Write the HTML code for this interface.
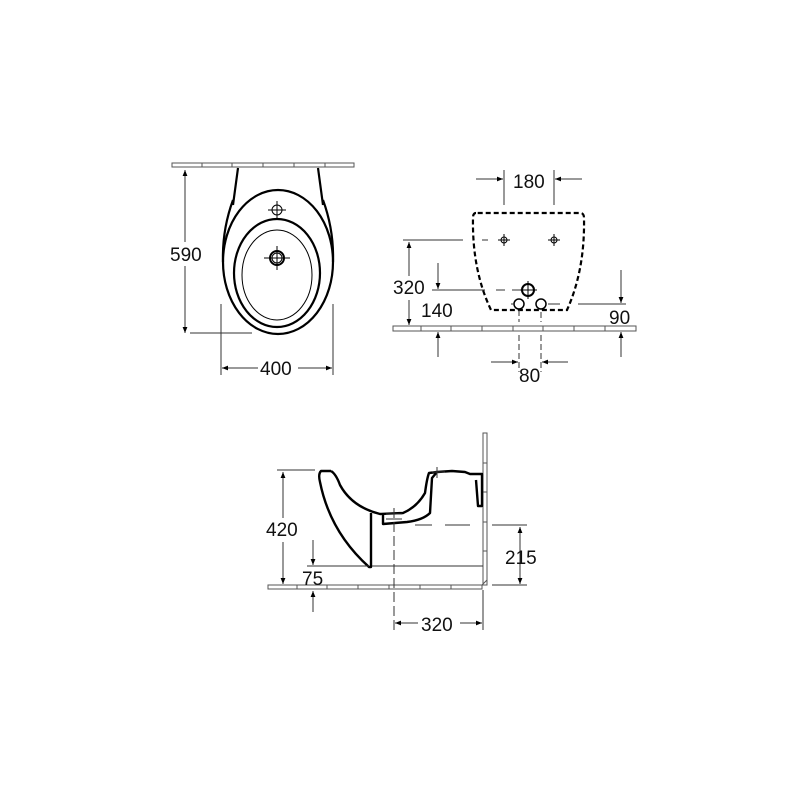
<!DOCTYPE html>
<html><head><style>
html,body{margin:0;padding:0;background:#fff;}
svg{display:block;}
text{font-family:"Liberation Sans",sans-serif;font-size:19px;fill:#111;}
</style></head><body>
<svg width="800" height="800" viewBox="0 0 800 800" xmlns="http://www.w3.org/2000/svg">
<defs>
<marker id="a" viewBox="0 0 10 10" refX="10" refY="5" markerWidth="10" markerHeight="6" orient="auto-start-reverse" markerUnits="userSpaceOnUse"><path d="M0,1 L10,5 L0,9 Z" fill="#000"/></marker>
</defs>
<g fill="none" stroke="#555" stroke-width="1">
<rect x="172" y="163" width="182" height="4" fill="#fff"/>
<path d="M202,163v4M232,163v4M263,163v4M294,163v4M325,163v4"/>
</g>
<g fill="none" stroke="#000" stroke-width="2.2">
<path d="M238,168 L233,205 M318,168 L323,205"/>
<path d="M233,200 Q222,230 223,262 M323,200 Q334,230 333,262"/>
<ellipse cx="278" cy="262" rx="55" ry="72"/>
<ellipse cx="277" cy="273" rx="43" ry="54"/>
</g>
<g fill="none" stroke="#000" stroke-width="1">
<ellipse cx="277" cy="275" rx="35" ry="45"/>
<circle cx="277" cy="210" r="5"/><path d="M268,210h18M277,201v18"/>
<circle cx="277" cy="258" r="7" stroke-width="2"/><circle cx="277" cy="258" r="5"/><path d="M264,258h26M277,246v24"/>
</g>
<g fill="none" stroke="#333" stroke-width="1">
<path d="M185,170 V333" marker-start="url(#a)" marker-end="url(#a)"/>
<path d="M190,333 H252"/>
<path d="M221,304 V375 M333,304 V375"/>
<path d="M222,368 H258" marker-start="url(#a)"/><path d="M298,368 H332" marker-end="url(#a)"/>
</g>
<rect x="168" y="242" width="40" height="24" fill="#fff"/>
<text x="170" y="261">590</text>
<text x="260" y="375">400</text>

<!-- VIEW 2 -->
<g fill="none" stroke="#555" stroke-width="1">
<rect x="393" y="326" width="243" height="5" fill="#fff"/>
<path d="M421,326v5M451,326v5M482,326v5M513,326v5M543,326v5M574,326v5M605,326v5"/>
</g>
<g fill="none" stroke="#000" stroke-width="2.2" stroke-dasharray="5,3">
<path d="M476,213 Q473,213 473,218 Q472,270 491,310 L567,310 Q585,270 584,218 Q584,213 580,213 Z"/>
</g>
<g fill="none" stroke="#000" stroke-width="1">
<circle cx="504" cy="240" r="3"/><path d="M498,240h12M504,234v12"/>
<circle cx="554" cy="240" r="3"/><path d="M548,240h12M554,234v12"/>
<circle cx="528" cy="290" r="6" stroke-width="2"/><path d="M519,290h18M528,281v18"/>
<circle cx="519" cy="304" r="5" stroke-width="1.5"/><circle cx="541" cy="304" r="5" stroke-width="1.5"/>
</g>
<g fill="none" stroke="#333" stroke-width="1">
<path d="M504,170 V205 M554,170 V205"/>
<path d="M476,179 H503" marker-end="url(#a)"/><path d="M582,179 H555" marker-end="url(#a)"/>
<path d="M403,240 H463 M482,240 H488"/>
<path d="M409,242 V325" marker-start="url(#a)" marker-end="url(#a)"/>
<path d="M430,290 H485 M496,290 H505 M512,290 H520"/>
<path d="M438,263 V289" marker-end="url(#a)"/><path d="M438,357 V332" marker-end="url(#a)"/>
<path d="M511,304 H515 M548,304 H560 M578,304 H626"/>
<path d="M621,270 V303" marker-end="url(#a)"/><path d="M621,357 V332" marker-end="url(#a)"/>
<path d="M519,310 V322 M519,335 V372 M541,312 V322 M541,335 V372" stroke-dasharray="6,3"/>
<path d="M491,362 H518" marker-end="url(#a)"/><path d="M568,362 H542" marker-end="url(#a)"/>
</g>
<rect x="392" y="276" width="40" height="24" fill="#fff"/>
<text x="393" y="294">320</text>
<text x="421" y="317">140</text>
<text x="609" y="324">90</text>
<text x="519" y="382">80</text>
<text x="513" y="188">180</text>

<!-- VIEW 3 -->
<g fill="none" stroke="#555" stroke-width="1">
<rect x="483" y="433" width="4" height="152" fill="#fff"/>
<path d="M483,463h4M483,492h4M483,522h4M483,551h4"/>
<rect x="268" y="585" width="214" height="4" fill="#fff"/>
<path d="M297,585v4M327,585v4M358,585v4M389,585v4M420,585v4M451,585v4"/>
<path d="M482,585 L487,580"/>
</g>
<g fill="none" stroke="#000" stroke-width="2.4" stroke-linejoin="round">
<path d="M331,471 L321,471 Q318,474 320,482 Q330,532 369,567 L371,567 L371,513"/>
<path d="M331,471 Q336,474 340,485 Q352,507 380,514 L403,513 Q417,507 425,493 Q427,478 429,473 L437,472"/>
<path d="M383,515 L383,524 L407,522 Q423,520 430,513 L432,478 L437,472 L452,471 L465,472 L470,474 L482,474 L482,506 L478,506 L476,480"/>
</g>
<g fill="none" stroke="#333" stroke-width="1">
<path d="M277,470 H315 M437,467 V478 M432,472 H445"/>
<path d="M283,472 V584" marker-start="url(#a)" marker-end="url(#a)"/>
<path d="M307,566 H369 M372,566 H483"/>
<path d="M313,540 V565" marker-end="url(#a)"/><path d="M313,612 V591" marker-end="url(#a)"/>
<path d="M394,508 V630" stroke-dasharray="10,4"/>
<path d="M386,514 H402 M386,519 H402"/>
<path d="M415,525 H432 M445,525 H470 M492,525 H527"/>
<path d="M520,527 V584" marker-start="url(#a)" marker-end="url(#a)"/>
<path d="M492,585 H527"/>
<path d="M483,590 V630"/>
<path d="M395,623 H418" marker-start="url(#a)"/><path d="M460,623 H482" marker-end="url(#a)"/>
</g>
<rect x="265" y="518" width="38" height="24" fill="#fff"/>
<text x="266" y="536">420</text>
<text x="302" y="585">75</text>
<text x="505" y="564">215</text>
<text x="421" y="631">320</text>
</svg>
</body></html>
